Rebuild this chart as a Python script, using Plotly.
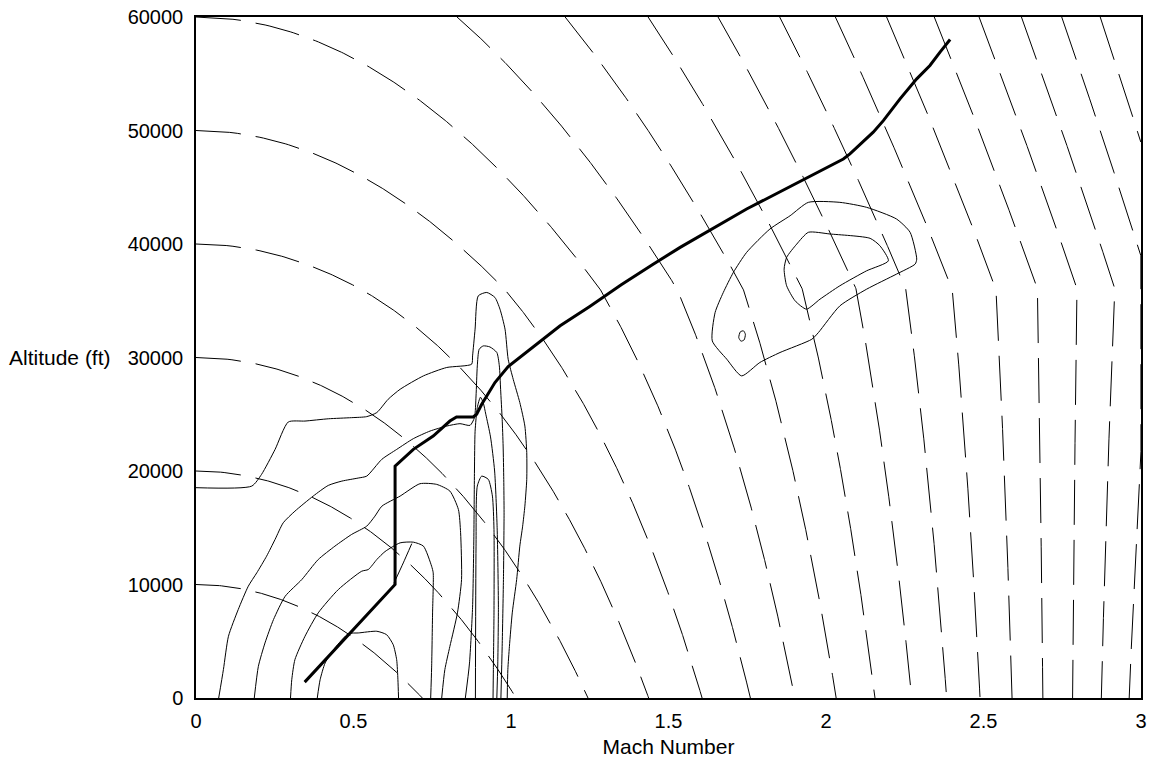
import numpy as np
import plotly.graph_objects as go

# ---------------- data ----------------
# thick trajectory (Mach, altitude ft)
traj_mach = [0.345, 0.632, 0.632, 0.690, 0.753, 0.806, 0.827, 0.880, 0.891, 0.907, 0.923,
             0.949, 0.991, 1.060, 1.156, 1.25, 1.35, 1.45, 1.537, 1.748, 2.055, 2.076,
             2.150, 2.182, 2.235, 2.288, 2.330, 2.362, 2.394]
traj_alt = [1400, 10000, 20430, 21910, 23080, 24400, 24760, 24760, 25000, 25880, 26610,
            27790, 29200, 30730, 32790, 34500, 36400, 38200, 39700, 43080, 47490, 47940,
            49850, 50870, 52790, 54550, 55730, 56910, 58020]

# thin solid contours
c1_mach = [0.0, 0.177, 0.208, 0.251, 0.293, 0.346, 0.420, 0.494, 0.542, 0.574, 0.610, 0.648,
           0.722, 0.796, 0.875, 0.878, 0.886, 0.896, 0.923, 0.949, 0.965, 0.981, 0.991, 1.007,
           1.028, 1.044, 1.050, 1.050, 1.044, 1.037, 1.028, 1.018, 1.004, 0.995, 0.990, 0.988]
c1_alt = [18530, 18670, 19700, 21900, 24320, 24400, 24600, 24700, 24790, 25150, 26320, 27200,
          28380, 29120, 29410, 30140, 32500, 35430, 35730, 35290, 34260, 32500, 29850, 28080,
          26030, 23960, 21620, 19260, 16900, 15140, 13380, 10440, 7500, 4550, 2500, 0]

c2_mach = [0.072, 0.087, 0.103, 0.134, 0.166, 0.193, 0.224, 0.251, 0.277, 0.314, 0.372, 0.420,
           0.463, 0.515, 0.542, 0.590, 0.637, 0.690, 0.743, 0.796, 0.838, 0.870, 0.884, 0.889,
           0.893, 0.899, 0.912, 0.933, 0.955, 0.963, 0.967, 0.972, 0.975, 0.977, 0.978, 0.976,
           0.972, 0.968]
c2_alt = [0, 2500, 5440, 7790, 9850, 11030, 12490, 13970, 15440, 16460, 17790, 18730,
          19110, 19380, 19550, 21030, 21900, 22850, 23520, 23960, 24170, 24020, 24700, 26610,
          29260, 30730, 31020, 30930, 30440, 29260, 27200, 24550, 22200, 19260, 16320, 10440,
          4550, 0]

c3_mach = [0.185, 0.198, 0.219, 0.246, 0.283, 0.336, 0.388, 0.441, 0.494, 0.542, 0.568, 0.590,
           0.648, 0.711, 0.764, 0.806, 0.833, 0.840, 0.843, 0.830, 0.806, 0.790, 0.780]
c3_alt = [0, 2790, 4850, 6910, 8960, 10440, 12200, 13380, 14410, 15140, 16020, 16900,
          17790, 18880, 18820, 18230, 16610, 14560, 10440, 7500, 4550, 2500, 0]

c4_mach = [0.300, 0.304, 0.314, 0.346, 0.388, 0.452, 0.526, 0.547, 0.574, 0.600, 0.648,
           0.690, 0.722, 0.748, 0.753, 0.751, 0.748, 0.745]
c4_alt = [0, 1610, 3380, 5440, 7500, 9560, 11170, 11320, 12200, 12900, 13670,
          13730, 13380, 11610, 11030, 7500, 2650, 0]

c5_mach = [0.628, 0.658, 0.685]
c5_alt = [10100, 11900, 13600]

c6_mach = [0.385, 0.394, 0.410, 0.441, 0.484, 0.515, 0.574, 0.605, 0.626, 0.637, 0.641, 0.643]
c6_alt = [0, 1610, 3090, 4410, 5670, 5730, 5880, 5580, 4700, 3380, 1610, 0]

c7_mach = [0.887, 0.889, 0.893, 0.907, 0.928, 0.941, 0.946, 0.946, 0.944, 0.943]
c7_alt = [0, 13380, 18670, 19550, 19260, 17790, 14850, 7500, 2500, 0]

c11_mach = [0.855, 0.868, 0.878, 0.882, 0.884, 0.886, 0.893, 0.903, 0.912, 0.920, 0.935,
            0.948, 0.956, 0.960, 0.958, 0.955]
c11_alt = [0, 3000, 8000, 14000, 20000, 23500, 25600, 26500, 26000, 25000, 23000,
           20000, 15000, 8000, 3000, 0]

c8_mach = [1.944, 2.044, 2.129, 2.224, 2.267, 2.288, 2.283, 2.224, 2.129, 2.044, 1.976, 1.955,
           1.854, 1.790, 1.732, 1.685, 1.639, 1.648, 1.674, 1.706, 1.748, 1.822, 1.886, 1.944]
c8_alt = [43670, 43670, 43230, 42200, 41030, 38670, 38230, 37350, 36020, 34550, 32200, 31610,
          30440, 29560, 28380, 29850, 31460, 33970, 35730, 37500, 39260, 41320, 42490, 43670]

c9_mach = [1.944, 2.013, 2.140, 2.171, 2.198, 2.129, 2.044, 1.981, 1.938, 1.902, 1.875, 1.867,
           1.875, 1.907, 1.944]
c9_alt = [41030, 40880, 40500, 39850, 38520, 37640, 36320, 35140, 34260, 34990, 36320, 37790,
          38820, 39990, 41030]

c10_mach = [1.738, 1.744, 1.740, 1.730, 1.723, 1.728, 1.738]
c10_alt = [32350, 32050, 31550, 31440, 31760, 32260, 32350]

# energy-height levels of the dashed lines (ft)
energy_levels = list(range(10000, 190000, 10000))

x_ticks = [0, 0.5, 1, 1.5, 2, 2.5, 3]
x_tick_text = ["0", "0.5", "1", "1.5", "2", "2.5", "3"]
y_ticks = [0, 10000, 20000, 30000, 40000, 50000, 60000]
y_tick_text = ["0", "10000", "20000", "30000", "40000", "50000", "60000"]

# ---------------- figure ----------------
G = 32.174


def sound_speed(h):
    T = np.where(h < 36089.0, 518.67 - 0.0035662 * h, 389.97)
    return np.sqrt(1.4 * 1716.49 * T)


fig = go.Figure()

for he in energy_levels:
    h = np.linspace(min(he, 60000), 0, 600)
    m = np.sqrt(2 * G * (he - h)) / sound_speed(h)
    keep = m <= 3.0
    if keep.sum() < 2:
        continue
    fig.add_trace(go.Scatter(x=m[keep], y=h[keep], mode="lines",
                             line=dict(color="black", width=1, dash="45px,15px"),
                             hoverinfo="skip", showlegend=False))

contours = [(c1_mach, c1_alt), (c2_mach, c2_alt), (c3_mach, c3_alt), (c4_mach, c4_alt),
            (c5_mach, c5_alt), (c6_mach, c6_alt), (c7_mach, c7_alt), (c11_mach, c11_alt),
            (c8_mach, c8_alt), (c9_mach, c9_alt), (c10_mach, c10_alt)]
for cm, ca in contours:
    fig.add_trace(go.Scatter(x=cm, y=ca, mode="lines",
                             line=dict(color="black", width=1, shape="spline", smoothing=0.6),
                             hoverinfo="skip", showlegend=False))

fig.add_trace(go.Scatter(x=traj_mach, y=traj_alt, mode="lines",
                         line=dict(color="black", width=3),
                         hoverinfo="skip", showlegend=False))

tick_font = dict(family="Liberation Sans, Arial, sans-serif", size=20, color="black")
label_font = dict(family="Liberation Sans, Arial, sans-serif", size=21, color="black")

fig.update_layout(
    width=1154, height=761,
    margin=dict(l=196, r=13, t=17, b=63),
    paper_bgcolor="white", plot_bgcolor="white",
    font=tick_font,
    showlegend=False,
    xaxis=dict(range=[0, 3], tickvals=x_ticks, ticktext=x_tick_text, showgrid=False,
               zeroline=False, showline=True, linecolor="black", linewidth=1.5, mirror=True,
               ticks="", ticklen=0, ticklabelstandoff=4, tickfont=tick_font, automargin=False,
               title=dict(text="Mach Number", standoff=9, font=label_font)),
    yaxis=dict(range=[0, 60000], tickvals=y_ticks, ticktext=y_tick_text, showgrid=False,
               zeroline=False, showline=True, linecolor="black", linewidth=1.5, mirror=True,
               ticks="", ticklen=0, ticklabelstandoff=7, tickfont=tick_font, automargin=False),
    annotations=[dict(text="Altitude (ft)", xref="paper", yref="paper", x=-0.088, y=0.5,
                      xanchor="right", yanchor="middle", showarrow=False, font=label_font)],
)

fig.write_html("out.html")
